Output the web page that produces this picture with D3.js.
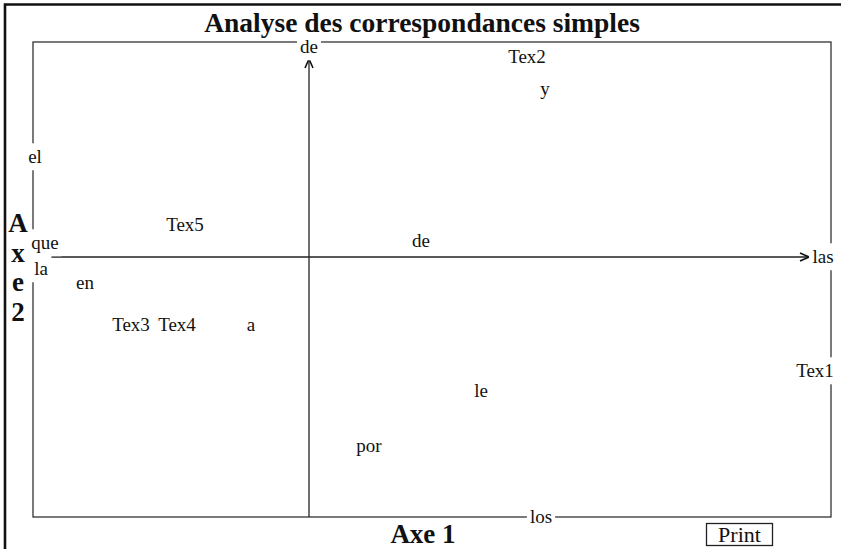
<!DOCTYPE html>
<html>
<head>
<meta charset="utf-8">
<script src="https://cdn.jsdelivr.net/npm/d3@7"></script>
<style>
  body { margin: 0; background: #fff; }
  text { font-family: "Liberation Serif", "Times New Roman", serif; fill: #111; }
</style>
</head>
<body>
<div id="chart"></div>
<script>
// labels and their coordinates on the two factorial axes
const labels = ["de", "Tex2", "y", "el", "Tex5", "que", "la", "de", "las", "en",
                "Tex3", "Tex4", "a", "le", "Tex1", "por", "los"];
const axe1 = [0.0, 0.545, 0.59, -0.685, -0.31, -0.66, -0.67, 0.28, 1.285, -0.56,
              -0.445, -0.33, -0.145, 0.43, 1.265, 0.15, 0.58];
const axe2 = [0.525, 0.50, 0.42, 0.25, 0.08, 0.035, -0.03, 0.04, 0.0, -0.065,
              -0.17, -0.17, -0.17, -0.335, -0.285, -0.4725, -0.65];
const axe2Letters = ["A", "x", "e", "2"];

const width = 841, height = 549;
const frame = {left: 33, top: 42, right: 831, bottom: 517};

const svg = d3.select('#chart')
  .append('svg')
  .attr('width', width)
  .attr('height', height);

// outer window border (only top and left are visible)
svg.append('path')
  .attr('d', `M5,${height + 5} L5,4.5 L${width + 5},4.5`)
  .attr('fill', 'none')
  .attr('stroke', '#111')
  .attr('stroke-width', 2.6);

// scales
const x = d3.scaleLinear()
  .domain([-0.69, 1.305])
  .range([frame.left, frame.right]);

const y = d3.scaleLinear()
  .domain([-0.65, 0.5375])
  .range([frame.bottom, frame.top]);

// plot frame
svg.append('rect')
  .attr('x', x(-0.69))
  .attr('y', y(0.5375))
  .attr('width', x(1.305) - x(-0.69))
  .attr('height', y(-0.65) - y(0.5375))
  .attr('fill', 'none')
  .attr('stroke', '#333')
  .attr('stroke-width', 1.3);

// marker for the arrows
svg.append('defs').append('marker')
  .attr('id', 'arrow')
  .attr('viewBox', '0 0 10 10')
  .attr('refX', 10).attr('refY', 5)
  .attr('markerWidth', 10).attr('markerHeight', 10)
  .attr('markerUnits', 'userSpaceOnUse')
  .attr('orient', 'auto')
  .append('path')
  .attr('d', 'M1,1 L10,5 L1,9')
  .attr('fill', 'none')
  .attr('stroke', '#111')
  .attr('stroke-width', 1.6);

// axes through the origin
svg.append('line')
  .attr('x1', x(-0.69) + 15).attr('x2', x(1.285) - 14)
  .attr('y1', y(0)).attr('y2', y(0))
  .attr('stroke', '#222').attr('stroke-width', 1.3)
  .attr('marker-end', 'url(#arrow)');

svg.append('line')
  .attr('x1', x(0)).attr('x2', x(0))
  .attr('y1', y(-0.65)).attr('y2', y(0.525) + 12)
  .attr('stroke', '#222').attr('stroke-width', 1.3)
  .attr('marker-end', 'url(#arrow)');

// point labels, with a white box so they cut the frame lines
const pts = labels.map((d, i) => ({label: d, a1: axe1[i], a2: axe2[i]}));

const g = svg.append('g');
const nodes = g.selectAll('g.pt')
  .data(pts)
  .enter()
  .append('g')
  .attr('class', 'pt')
  .attr('transform', d => `translate(${x(d.a1)},${y(d.a2)})`);

nodes.append('rect').attr('fill', '#fff');
nodes.append('text')
  .attr('text-anchor', 'middle')
  .attr('dy', '0.33em')
  .style('font-size', '19px')
  .text(d => d.label);

nodes.each(function() {
  const bb = d3.select(this).select('text').node().getBBox();
  d3.select(this).select('rect')
    .attr('x', bb.x - 3).attr('y', bb.y - 3)
    .attr('width', bb.width + 6).attr('height', bb.height + 6);
});

// title
svg.append('text')
  .attr('x', 422)
  .attr('y', 32)
  .attr('text-anchor', 'middle')
  .style('font-size', '27.5px')
  .style('font-weight', 'bold')
  .text('Analyse des correspondances simples');

// axis titles
svg.append('text')
  .attr('x', 423)
  .attr('y', 543)
  .attr('text-anchor', 'middle')
  .style('font-size', '27px')
  .style('font-weight', 'bold')
  .text('Axe 1');

svg.selectAll('text.axe2')
  .data(axe2Letters)
  .enter()
  .append('text')
  .attr('class', 'axe2')
  .attr('x', 18)
  .attr('y', (d, i) => 232 + i * 29.5)
  .attr('text-anchor', 'middle')
  .style('font-size', '27px')
  .style('font-weight', 'bold')
  .text(d => d);

// print button
svg.append('rect')
  .attr('x', 706.5).attr('y', 523.5)
  .attr('width', 66).attr('height', 22)
  .attr('fill', '#fff')
  .attr('stroke', '#222')
  .attr('stroke-width', 1.3);

svg.append('text')
  .attr('x', 739.5)
  .attr('y', 542)
  .attr('text-anchor', 'middle')
  .style('font-size', '22px')
  .text('Print');
</script>
</body>
</html>
